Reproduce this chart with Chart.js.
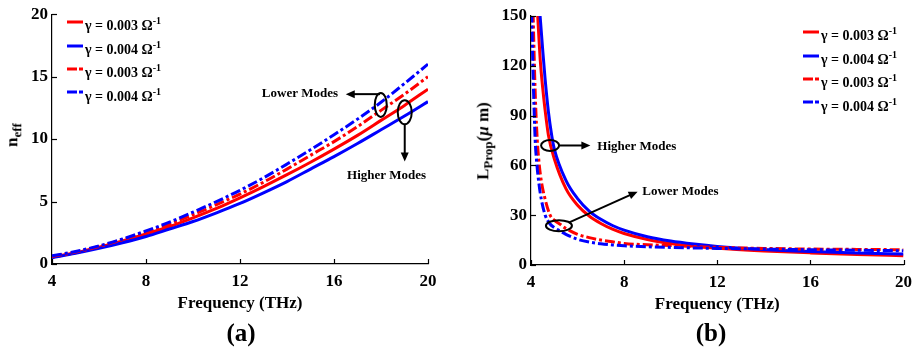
<!DOCTYPE html>
<html lang="en">
<head>
<meta charset="UTF-8">
<title>n_eff and L_Prop versus frequency</title>
<script src="https://cdn.jsdelivr.net/npm/chart.js"></script>
<style>
  body { margin: 0; width: 919px; height: 348px; position: relative; background: #fff;
         font-family: 'Liberation Serif', 'Times New Roman', serif; color: #000; overflow: hidden; }
  .wrap { position: absolute; top: 0; height: 348px; }
  .ytitle { position: absolute; font-weight: bold; font-size: 17px; white-space: nowrap;
            transform: translate(-50%, -50%) rotate(-90deg); }
  .ytitle sub { font-size: 13px; }
  .panel { position: absolute; font-weight: bold; font-size: 25px; transform: translate(-50%, -50%); }
  .legend { position: absolute; font-weight: bold; font-size: 14px; }
  .legend .row { display: flex; align-items: center; height: 23.4px; white-space: nowrap; }
  .legend svg { margin-right: 2px; margin-top: -5px; }
  .legend sup { font-size: 10px; }
</style>
</head>
<body>
<div class="wrap" style="left:0;width:460px"><canvas id="chartA"></canvas></div>
<div class="wrap" style="left:460px;width:459px"><canvas id="chartB"></canvas></div>

<div class="ytitle" style="left:14px;top:135px">n<sub>eff</sub></div>
<div class="ytitle" style="left:485px;top:141px">L<sub>Prop</sub>(<i>μ</i> m)</div>
<div class="panel" style="left:241px;top:333px">(a)</div>
<div class="panel" style="left:711px;top:333px">(b)</div>
<div class="legend" id="legendA" style="left:67px;top:13px"></div>
<div class="legend" id="legendB" style="left:803px;top:23px"></div>

<script>
// legend entries (same in both panels)
const seriesNames = ['γ = 0.003 Ω', 'γ = 0.004 Ω', 'γ = 0.003 Ω', 'γ = 0.004 Ω'];
const seriesColors = ['#ff0000', '#0000ff', '#ff0000', '#0000ff'];
const seriesDashed = [false, false, true, true];

// (a) effective index
const freqA = [4, 5, 6, 7, 8, 9, 10, 11, 12, 13, 14, 15, 16, 17, 18, 19, 20];
const neffSolid003 = [0.55, 0.9, 1.35, 1.85, 2.4, 3.0, 3.7, 4.45, 5.3, 6.2, 7.15, 8.15, 9.2, 10.3, 11.5, 12.7, 14.0];
const neffSolid004 = [0.5, 0.85, 1.25, 1.7, 2.2, 2.8, 3.4, 4.1, 4.85, 5.7, 6.6, 7.6, 8.6, 9.65, 10.75, 11.85, 13.0];
const neffDash003 = [0.6, 0.95, 1.4, 1.95, 2.55, 3.2, 3.95, 4.75, 5.6, 6.55, 7.6, 8.7, 9.8, 11.0, 12.3, 13.6, 15.0];
const neffDash004 = [0.65, 1.0, 1.45, 2.0, 2.65, 3.35, 4.15, 5.0, 5.9, 6.9, 8.0, 9.15, 10.35, 11.6, 12.95, 14.45, 16.0];

// (b) propagation length
const freqSolid003 = [4.28, 4.4, 4.5, 4.6, 4.75, 5, 5.5, 6, 6.5, 7, 7.5, 8, 9, 10, 11, 12, 14, 16, 18, 20];
const lpropSolid003 = [152, 123, 107, 94, 78, 64, 46, 36, 29.5, 25, 21.6, 19, 15.4, 13, 11.3, 10.1, 8.5, 7.3, 6.3, 5.6];
const freqSolid004 = [4.38, 4.5, 4.6, 4.75, 4.89, 5, 5.5, 6, 6.5, 7, 7.5, 8, 9, 10, 11, 12, 14, 16, 18, 20];
const lpropSolid004 = [152, 130, 113, 92, 78, 70, 51, 40, 32.5, 27.5, 23.8, 21, 17, 14.4, 12.6, 11.2, 9.4, 8.2, 7.3, 6.6];
const freqDash003 = [4.09, 4.15, 4.2, 4.27, 4.35, 4.45, 4.6, 4.82, 5, 5.25, 5.5, 6, 6.5, 7, 7.5, 8, 9, 10, 11, 12, 14, 16, 18, 20];
const lpropDash003 = [152, 118, 96, 75, 61, 50, 40, 30, 27, 24.5, 22, 18.5, 16.5, 15, 14, 13, 12.2, 11.7, 11.1, 10.6, 10, 9.6, 9.4, 9.2];
const freqDash004 = [4.03, 4.08, 4.13, 4.18, 4.25, 4.35, 4.45, 4.61, 4.8, 5, 5.25, 5.5, 6, 6.5, 7, 7.5, 8, 9, 10, 11, 12, 14, 16, 18, 20];
const lpropDash004 = [152, 120, 95, 75, 61, 48, 39, 30, 25, 22.5, 20.5, 18.5, 15.5, 13.8, 12.8, 12.1, 11.6, 11, 10.6, 10.3, 10, 9.6, 9.2, 8.9, 8.6];

const FONT = "'Liberation Serif', 'Times New Roman', serif";
const DASH = [10, 3, 3, 3];

function pts(xs, ys) {
  return xs.map((x, i) => ({ x: x, y: ys[i] }));
}

function makeSet(i, data) {
  return {
    label: seriesNames[i],
    data: data,
    borderColor: seriesColors[i],
    borderWidth: 3,
    borderDash: seriesDashed[i] ? DASH : [],
    pointRadius: 0,
    cubicInterpolationMode: 'monotone',
    fill: false,
    order: 3 - i
  };
}

// ellipses, arrows and labels, placed in data units
const notesA = {
  ellipses: [{ f: 17.99, v: 12.74, rx: 6, ry: 12 }, { f: 19.01, v: 12.15, rx: 7, ry: 12 }],
  arrows: [{ from: [17.96, 13.6], to: [16.5, 13.6] }, { from: [19.01, 11.2], to: [19.01, 8.2] }],
  labels: [{ text: 'Lower Modes', f: 16.17, v: 13.6, align: 'right' },
           { text: 'Higher Modes', f: 18.24, v: 7.1, align: 'center' }]
};
const notesB = {
  ellipses: [{ f: 4.82, v: 72, rx: 9, ry: 5.5 }, { f: 5.2, v: 23.7, rx: 13, ry: 5.5 }],
  arrows: [{ from: [5.2, 72], to: [6.55, 72] }, { from: [5.62, 25.5], to: [8.58, 44.2] }],
  labels: [{ text: 'Higher Modes', f: 6.85, v: 71, align: 'left' },
           { text: 'Lower Modes', f: 8.78, v: 44.2, align: 'left' }]
};

// inner tick marks + annotations
const extras = {
  id: 'extras',
  afterDraw(chart, args, opts) {
    const ctx = chart.ctx, xs = chart.scales.x, ys = chart.scales.y, a = chart.chartArea;
    ctx.save();
    ctx.strokeStyle = '#000';
    ctx.lineWidth = 1.2;
    xs.ticks.forEach(t => {
      const p = Math.round(xs.getPixelForValue(t.value)) + 0.5;
      ctx.beginPath(); ctx.moveTo(p, a.bottom); ctx.lineTo(p, a.bottom - 5); ctx.stroke();
    });
    ys.ticks.forEach(t => {
      const p = Math.round(ys.getPixelForValue(t.value)) + 0.5;
      ctx.beginPath(); ctx.moveTo(a.left, p); ctx.lineTo(a.left + 5, p); ctx.stroke();
    });

    const n = opts.notes;
    ctx.lineWidth = 2;
    n.ellipses.forEach(e => {
      ctx.beginPath();
      ctx.ellipse(xs.getPixelForValue(e.f), ys.getPixelForValue(e.v), e.rx, e.ry, 0, 0, Math.PI * 2);
      ctx.stroke();
    });
    n.arrows.forEach(ar => {
      const x1 = xs.getPixelForValue(ar.from[0]), y1 = ys.getPixelForValue(ar.from[1]);
      const x2 = xs.getPixelForValue(ar.to[0]), y2 = ys.getPixelForValue(ar.to[1]);
      const ang = Math.atan2(y2 - y1, x2 - x1);
      ctx.beginPath(); ctx.moveTo(x1, y1);
      ctx.lineTo(x2 - 6 * Math.cos(ang), y2 - 6 * Math.sin(ang)); ctx.stroke();
      ctx.beginPath();
      ctx.moveTo(x2, y2);
      ctx.lineTo(x2 - 9 * Math.cos(ang) + 4 * Math.sin(ang), y2 - 9 * Math.sin(ang) - 4 * Math.cos(ang));
      ctx.lineTo(x2 - 9 * Math.cos(ang) - 4 * Math.sin(ang), y2 - 9 * Math.sin(ang) + 4 * Math.cos(ang));
      ctx.closePath(); ctx.fillStyle = '#000'; ctx.fill();
    });
    ctx.font = 'bold 13px ' + FONT;
    ctx.textBaseline = 'middle';
    ctx.fillStyle = '#000';
    n.labels.forEach(l => {
      ctx.textAlign = l.align;
      ctx.fillText(l.text, xs.getPixelForValue(l.f), ys.getPixelForValue(l.v));
    });
    ctx.restore();
  }
};

function makeOptions(yMax, yStep, yWidth, padding, notes) {
  const tickFont = { family: FONT, size: 17, weight: 'bold' };
  return {
    responsive: true,
    maintainAspectRatio: false,
    animation: false,
    layout: { padding: padding },
    plugins: { legend: { display: false }, tooltip: { enabled: false }, extras: { notes: notes } },
    scales: {
      x: {
        type: 'linear', min: 4, max: 20,
        ticks: { stepSize: 4, color: '#000', font: tickFont, padding: 7, maxRotation: 0 },
        grid: { drawOnChartArea: false, drawTicks: false },
        border: { color: '#000', width: 1.2 },
        title: { display: true, text: 'Frequency (THz)', color: '#000', font: tickFont, padding: 0 },
        afterFit: s => { s.height = 50; }
      },
      y: {
        min: 0, max: yMax,
        ticks: { stepSize: yStep, color: '#000', font: tickFont, padding: 4 },
        grid: { drawOnChartArea: false, drawTicks: false },
        border: { color: '#000', width: 1.2 },
        afterFit: s => { s.width = yWidth; }
      }
    }
  };
}

new Chart(document.getElementById('chartA'), {
  type: 'line',
  data: {
    datasets: [
      makeSet(0, pts(freqA, neffSolid003)),
      makeSet(1, pts(freqA, neffSolid004)),
      makeSet(2, pts(freqA, neffDash003)),
      makeSet(3, pts(freqA, neffDash004))
    ]
  },
  options: makeOptions(20, 5, 52, { left: 0, top: 12, right: 32, bottom: 34 }, notesA),
  plugins: [extras]
});

new Chart(document.getElementById('chartB'), {
  type: 'line',
  data: {
    datasets: [
      makeSet(0, pts(freqSolid003, lpropSolid003)),
      makeSet(1, pts(freqSolid004, lpropSolid004)),
      makeSet(2, pts(freqDash003, lpropDash003)),
      makeSet(3, pts(freqDash004, lpropDash004))
    ]
  },
  options: makeOptions(150, 30, 71, { left: 0, top: 16, right: 12, bottom: 33 }, notesB),
  plugins: [extras]
});

// html legends so the superscript can be real text
function buildLegend(id) {
  const box = document.getElementById(id);
  seriesNames.forEach((name, i) => {
    const row = document.createElement('div');
    row.className = 'row';
    const dash = seriesDashed[i] ? 'stroke-dasharray="10 2 4 10"' : '';
    row.innerHTML = '<svg width="16" height="6"><line x1="0" y1="3" x2="16" y2="3" stroke="' +
      seriesColors[i] + '" stroke-width="3" ' + dash + '/></svg><span>' + name + '<sup>-1</sup></span>';
    box.appendChild(row);
  });
}
buildLegend('legendA');
buildLegend('legendB');
</script>
</body>
</html>
